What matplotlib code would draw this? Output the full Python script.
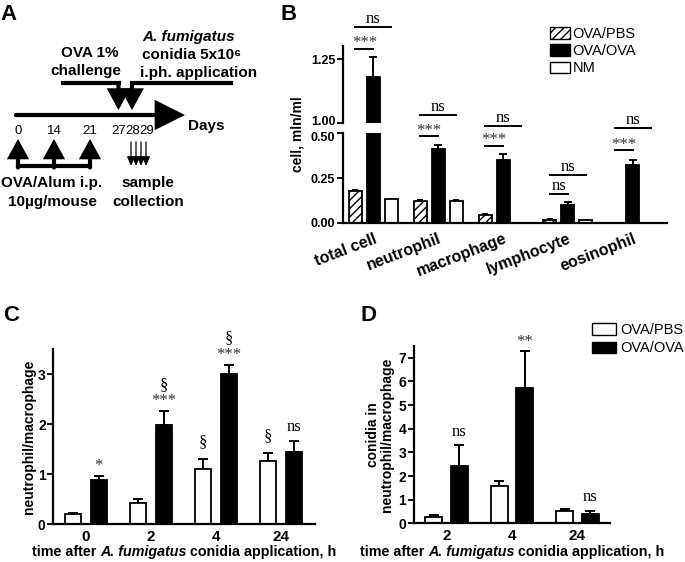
import matplotlib
matplotlib.use('Agg')
import matplotlib.pyplot as plt
import matplotlib.transforms as mtransforms
import numpy as np
from matplotlib.patches import Patch
from matplotlib.offsetbox import TextArea, HPacker, AnchoredOffsetbox

plt.rcParams['font.family'] = ['Liberation Sans', 'DejaVu Sans']
plt.rcParams['hatch.linewidth'] = 1.0
SERIF = ['Liberation Serif', 'DejaVu Serif']

# ---- panel A: protocol timeline ----
a_day_labels = ['0', '14', '21', '27', '28', '29']
a_sens_labels = ['0', '14', '21']
a_n_samples = 4

# ---- panel B: BAL cell counts (mln/ml) ----
b_cells = ['total cell', 'neutrophil', 'macrophage', 'lymphocyte', 'eosinophil']
b_pbs = [0.178, 0.120, 0.043, 0.017, 0.0]
b_pbs_err = [0.006, 0.008, 0.006, 0.004, 0.0]
b_ova = [1.18, 0.41, 0.353, 0.100, 0.320]
b_ova_err = [0.077, 0.025, 0.030, 0.015, 0.032]
b_nm = [0.130, 0.122, 0.0, 0.015, 0.0]
b_nm_err = [0.005, 0.004, 0.0, 0.002, 0.0]
b_sig_near = ['***', '***', '***', 'ns', '***']
b_sig_near_y = [1.29, 0.485, 0.431, 0.162, 0.405]
b_sig_far = ['ns', 'ns', 'ns', 'ns', 'ns']
b_sig_far_y = [1.373, 0.600, 0.541, 0.268, 0.528]

# ---- panel C: neutrophil/macrophage ratio ----
c_hours = ['0', '2', '4', '24']
c_pbs = [0.20, 0.43, 1.10, 1.27]
c_pbs_err = [0.03, 0.08, 0.20, 0.16]
c_ova = [0.88, 1.98, 3.00, 1.45]
c_ova_err = [0.09, 0.28, 0.19, 0.22]
c_pbs_sig = [[], [], ['§'], ['§']]
c_ova_sig = [['*'], ['***', '§'], ['***', '§'], ['ns']]

# ---- panel D: conidia in neutrophil/macrophage ----
d_hours = ['2', '4', '24']
d_pbs = [0.27, 1.56, 0.52]
d_pbs_err = [0.06, 0.23, 0.09]
d_ova = [2.42, 5.72, 0.40]
d_ova_err = [0.88, 1.55, 0.13]
d_ova_sig = [['ns'], ['**'], ['ns']]

W, H = 685, 562
fig = plt.figure(figsize=(W / 100, H / 100), dpi=100)


def px_axes(left, top, right, bottom):
    return fig.add_axes([left / W, 1 - bottom / H, (right - left) / W, (bottom - top) / H])


def style_axes(ax, bottom=True, ysize=10):
    for s in ['top', 'right']:
        ax.spines[s].set_visible(False)
    ax.spines['left'].set_linewidth(1.6)
    ax.spines['bottom'].set_linewidth(1.6)
    if not bottom:
        ax.spines['bottom'].set_visible(False)
    ax.tick_params(axis='y', length=4, width=1.3, pad=1.5, labelsize=ysize)
    ax.tick_params(axis='x', length=0)
    for lab in ax.get_yticklabels():
        lab.set_fontweight('bold')
    ax.patch.set_visible(False)


def bars(ax, x, vals, errs, width, color, hatch=None, capsize=3):
    vals = np.asarray(vals)
    errs = np.asarray(errs)
    keep = vals > 0
    ax.bar(x[keep], vals[keep], width, color=color, edgecolor='black', linewidth=1.3,
           hatch=hatch, zorder=2)
    ax.errorbar(x[keep], vals[keep], yerr=[np.zeros(keep.sum()), errs[keep]], fmt='none',
                ecolor='black', elinewidth=1.4, capsize=capsize, capthick=1.4, zorder=1)


def sig_marks(ax, x, tops, labels):
    for xi, top, labs in zip(x, tops, labels):
        for k, lab in enumerate(labs):
            off = (4 if lab != 'ns' else 7) + 12 * k
            if lab == '§' and k == 0:
                off = 9
            ax.annotate(lab, (xi, top), xytext=(0, off), textcoords='offset points',
                        ha='center', va='baseline', family=SERIF, fontsize=12,
                        color='#333333' if '*' in lab else 'black')


# ================= panel A =================
axA = px_axes(0, 0, 280, 270)
axA.set_xlim(0, 280)
axA.set_ylim(270, 0)
axA.axis('off')


def arrow(p0, p1, lw, hl, hw):
    axA.annotate('', xy=p1, xytext=p0,
                 arrowprops=dict(arrowstyle=f'-|>,head_length={hl},head_width={hw}',
                                 lw=lw, color='black', shrinkA=0, shrinkB=0,
                                 mutation_scale=1, joinstyle='miter'))


arrow((16, 115), (185, 115), 3.0, 17, 8.5)
axA.text(188, 126, 'Days', fontsize=11, weight='bold', va='center', ha='left')

day_x = [18, 54, 90, 119, 133, 147]
for xd, lab in zip(day_x, a_day_labels):
    axA.text(xd, 131, lab, fontsize=9.5, ha='center', va='center')

# sensitisation arrows
sens_x = day_x[:len(a_sens_labels)]
axA.plot([sens_x[0], sens_x[-1]], [166, 166], color='black', lw=3.0, solid_capstyle='projecting')
for xs in sens_x:
    arrow((xs, 167.5), (xs, 139), 3.0, 10, 5.5)
axA.text(52, 183, 'OVA/Alum i.p.', fontsize=11, weight='bold', ha='center', va='center')
axA.text(52, 202, '10µg/mouse', fontsize=11, weight='bold', ha='center', va='center')

# sample collection arrows
for i in range(a_n_samples):
    xs = 131 + 5 * i
    arrow((xs, 142), (xs, 166), 0.9, 5.5, 2.4)
axA.text(148, 183, 'sample', fontsize=11, weight='bold', ha='center', va='center')
axA.text(148, 202, 'collection', fontsize=11, weight='bold', ha='center', va='center')

# challenge and infection arrows
axA.plot([63, 118.5], [83, 83], color='black', lw=3.0, solid_capstyle='projecting')
arrow((118.5, 83), (118.5, 110), 3.0, 11, 6)
axA.plot([132, 231], [83, 83], color='black', lw=3.0, solid_capstyle='projecting')
arrow((132, 83), (132, 110), 3.0, 11, 6)
axA.text(90, 53, 'OVA 1%', fontsize=11, weight='bold', ha='center', va='center')
axA.text(86, 71, 'challenge', fontsize=11, weight='bold', ha='center', va='center')
axA.text(142, 37, 'A. fumigatus', fontsize=11, weight='bold', style='italic', ha='left', va='center')
axA.text(142, 55, 'conidia 5x10⁶', fontsize=11, weight='bold', ha='left', va='center')
axA.text(140, 73, 'i.ph. application', fontsize=11, weight='bold', ha='left', va='center')

# ================= panel B =================
axBt = px_axes(343, 46.2, 667, 123.3)
axB = px_axes(343, 133.3, 667, 222.7)
xb = np.arange(len(b_cells), dtype=float)
bw, boff = 0.2, 0.278
for ax in (axBt, axB):
    bars(ax, xb - boff, b_pbs, b_pbs_err, bw, 'white', hatch='////', capsize=2.5)
    bars(ax, xb, b_ova, b_ova_err, bw, 'black', capsize=3)
    bars(ax, xb + boff, b_nm, b_nm_err, bw, 'white', capsize=2.5)
    ax.set_xlim(-0.47, 4.53)
axBt.set_ylim(1.0, 1.3)
axBt.set_yticks([1.0, 1.25])
axBt.set_yticklabels(['1.00', '1.25'])
axBt.set_xticks([])
axB.set_ylim(0, 0.5)
axB.set_yticks([0, 0.25, 0.5])
axB.set_yticklabels(['0.00', '0.25', '0.50'])
axB.set_xticks(xb)
axB.set_xticklabels(b_cells, rotation=21, ha='right', rotation_mode='anchor',
                    fontsize=11.5, fontweight='bold')
style_axes(axBt, bottom=False, ysize=9)
style_axes(axB, ysize=9)
axB.tick_params(axis='x', pad=6)
# pull the two labels at the axis break slightly apart
lab_top = axBt.get_yticklabels()[0]
lab_top.set_transform(lab_top.get_transform()
                      + mtransforms.ScaledTranslation(0, 2.2 / 72, fig.dpi_scale_trans))
lab_low = axB.get_yticklabels()[-1]
lab_low.set_transform(lab_low.get_transform()
                      + mtransforms.ScaledTranslation(0, -2.2 / 72, fig.dpi_scale_trans))
fig.text(297 / W, 1 - 134 / H, 'cell, mln/ml', rotation=90, fontsize=10, weight='bold',
         ha='center', va='center')

for i in range(len(b_cells)):
    for lab, yv, x1 in [(b_sig_near[i], b_sig_near_y[i], xb[i]),
                        (b_sig_far[i], b_sig_far_y[i], xb[i] + boff)]:
        ax = axBt if yv > 0.5 and i == 0 else axB
        ax.plot([xb[i] - boff, x1], [yv, yv], color='black', lw=1.4, clip_on=False)
        off = 1 if '*' in lab else 3
        ax.annotate(lab, ((xb[i] - boff + x1) / 2, yv), xytext=(0, off),
                    textcoords='offset points', ha='center', va='baseline',
                    family=SERIF, fontsize=12, annotation_clip=False,
                    color='#333333' if '*' in lab else 'black')

fig.legend(handles=[Patch(facecolor='white', edgecolor='black', hatch='////', label='OVA/PBS'),
                    Patch(facecolor='black', edgecolor='black', label='OVA/OVA'),
                    Patch(facecolor='white', edgecolor='black', label='NM')],
           loc='upper left', bbox_to_anchor=(550 / W, 1 - 27 / H), frameon=False,
           fontsize=10.5, handlelength=1.4, handleheight=0.85, handletextpad=0.15,
           labelspacing=0.22, borderpad=0, borderaxespad=0)

# ================= panel C =================
axC = px_axes(53.3, 349, 315, 524)
xc = np.arange(len(c_hours), dtype=float)
cw, coff = 0.254, 0.2
bars(axC, xc - coff, c_pbs, c_pbs_err, cw, 'white', capsize=3.5)
bars(axC, xc + coff, c_ova, c_ova_err, cw, 'black', capsize=3.5)
sig_marks(axC, xc - coff, np.add(c_pbs, c_pbs_err), c_pbs_sig)
sig_marks(axC, xc + coff, np.add(c_ova, c_ova_err), c_ova_sig)
axC.set_xlim(-0.5, 3.52)
axC.set_ylim(0, 3.5)
axC.set_yticks([0, 1, 2, 3])
axC.set_xticks(xc)
axC.set_xticklabels(c_hours, fontsize=11, fontweight='bold')
style_axes(axC)
axC.tick_params(axis='x', pad=4)
axC.set_ylabel('neutrophil/macrophage', fontsize=10, weight='bold')
axC.yaxis.set_label_coords(-0.065, 0.5)

# ================= panel D =================
axD = px_axes(414, 346, 610, 523.3)
xd = np.arange(len(d_hours), dtype=float)
dw, doff = 0.26, 0.194
bars(axD, xd - doff, d_pbs, d_pbs_err, dw, 'white', capsize=3.5)
bars(axD, xd + doff, d_ova, d_ova_err, dw, 'black', capsize=3.5)
sig_marks(axD, xd + doff, np.add(d_ova, d_ova_err), d_ova_sig)
axD.set_xlim(-0.5, 2.5)
axD.set_ylim(0, 7.5)
axD.set_yticks(range(8))
axD.set_xticks(xd)
axD.set_xticklabels(d_hours, fontsize=11, fontweight='bold')
style_axes(axD)
axD.tick_params(axis='x', pad=4)
axD.set_ylabel('conidia in\nneutrophil/macrophage', fontsize=10, weight='bold',
               linespacing=1.0)
axD.yaxis.set_label_coords(-0.1, 0.5)
fig.legend(handles=[Patch(facecolor='white', edgecolor='black', label='OVA/PBS'),
                    Patch(facecolor='black', edgecolor='black', label='OVA/OVA')],
           loc='upper left', bbox_to_anchor=(592 / W, 1 - 323 / H), frameon=False,
           fontsize=10.5, handlelength=1.65, handleheight=0.85, handletextpad=0.3,
           labelspacing=0.3, borderpad=0, borderaxespad=0)

# x labels with italic species name
for ax in (axC, axD):
    parts = [TextArea('time after ', textprops=dict(weight='bold', size=10.3)),
             TextArea('A. fumigatus', textprops=dict(weight='bold', style='italic', size=10.3)),
             TextArea(' conidia application, h', textprops=dict(weight='bold', size=10.3))]
    box = HPacker(children=parts, sep=0, pad=0, align='baseline')
    fig.add_artist(AnchoredOffsetbox(loc='center', child=box, bbox_to_anchor=(0.5, -0.16),
                                     bbox_transform=ax.transAxes, frameon=False,
                                     pad=0, borderpad=0))

# panel letters
for lab, xp, yp in [('A', 0, 4), ('B', 280, 4), ('C', 3, 305), ('D', 360, 305)]:
    fig.text(xp / W, 1 - yp / H, lab, fontsize=16, weight='bold', ha='left', va='top')

fig.savefig('out.png', dpi=100)
